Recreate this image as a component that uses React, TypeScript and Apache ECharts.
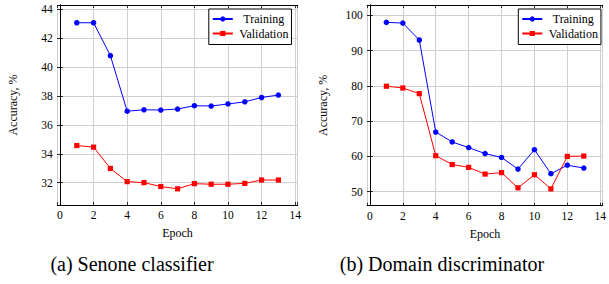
import React, { useEffect, useRef } from "react";
import * as echarts from "echarts";

const epochs = [1, 2, 3, 4, 5, 6, 7, 8, 9, 10, 11, 12, 13];
const senoneTraining = [43.08, 43.08, 40.8, 36.95, 37.05, 37.03, 37.1, 37.33, 37.31, 37.45, 37.6, 37.9, 38.07];
const senoneValidation = [34.57, 34.46, 32.98, 32.07, 32.0, 31.73, 31.57, 31.93, 31.89, 31.89, 31.95, 32.18, 32.18];
const domainTraining = [98.0, 97.8, 93.0, 66.9, 64.1, 62.5, 60.8, 59.7, 56.4, 61.9, 55.1, 57.5, 56.7];
const domainValidation = [79.9, 79.4, 77.8, 60.2, 57.7, 56.9, 55.0, 55.4, 51.1, 54.8, 50.8, 60.0, 60.1];
const seriesNames = ["Training", "Validation"];
const captions = ["(a) Senone classifier", "(b) Domain discriminator"];
const xTitle = "Epoch";
const yTitle = "Accuracy, %";

const FONT = "Liberation Serif";

function pairs(ys: number[]) {
  return epochs.map((e, i) => [e, ys[i]]);
}

function fmt(step: number) {
  return (v: number) => {
    const k = v / step;
    return Math.abs(k - Math.round(k)) < 1e-6 ? String(Math.round(v)) : "";
  };
}

export default function App() {
  const ref = useRef<HTMLDivElement>(null);
  useEffect(() => {
    if (!ref.current) return;
    const chart = echarts.init(ref.current, undefined, { renderer: "svg" });

    const grids = [
      { left: 57.3, top: 5, width: 240.4, height: 200 },
      { left: 367.3, top: 5, width: 240.7, height: 200.7 },
    ];
    const xRange = [-0.16, 14.15];
    const yRanges = [
      { min: 30.45, max: 44.31, step: 2, split: 7 },
      { min: 46.03, max: 102.92, step: 10, split: 6 },
    ];

    const tickStyle = { show: true, inside: true, length: 3, lineStyle: { color: "#000", width: 0.8 } };
    const lineStyle = { show: true, lineStyle: { color: "#000", width: 1 } };
    const labelStyle = { color: "#000", fontFamily: FONT, fontSize: 11.5 };

    const xAxis: any[] = [];
    const yAxis: any[] = [];
    grids.forEach((_, g) => {
      xAxis.push({
        type: "value",
        gridIndex: g,
        position: "bottom",
        min: xRange[0],
        max: xRange[1],
        minInterval: 2,
        maxInterval: 2,
        splitNumber: 7,
        axisLine: lineStyle,
        axisTick: tickStyle,
        axisLabel: { ...labelStyle, margin: 4, formatter: fmt(2), showMinLabel: true, showMaxLabel: true },
        splitLine: { show: true, lineStyle: { color: "#cfcfcf", width: 1 } },
        name: xTitle,
        nameLocation: "middle",
        nameGap: 22,
        nameTextStyle: { color: "#000", fontFamily: FONT, fontSize: 12 },
      });
      xAxis.push({
        type: "value",
        gridIndex: g,
        position: "top",
        min: xRange[0],
        max: xRange[1],
        minInterval: 2,
        maxInterval: 2,
        splitNumber: 7,
        axisLine: lineStyle,
        axisTick: tickStyle,
        axisLabel: { show: false },
        splitLine: { show: false },
      });
      const yr = yRanges[g];
      yAxis.push({
        type: "value",
        gridIndex: g,
        position: "left",
        min: yr.min,
        max: yr.max,
        minInterval: yr.step,
        maxInterval: yr.step,
        splitNumber: yr.split,
        axisLine: lineStyle,
        axisTick: tickStyle,
        axisLabel: { ...labelStyle, margin: 4.5, formatter: fmt(yr.step), showMinLabel: true, showMaxLabel: true },
        splitLine: { show: true, lineStyle: { color: "#cfcfcf", width: 1 } },
        name: yTitle,
        nameLocation: "middle",
        nameGap: 38,
        nameTextStyle: { color: "#000", fontFamily: FONT, fontSize: 12 },
      });
      yAxis.push({
        type: "value",
        gridIndex: g,
        position: "right",
        min: yr.min,
        max: yr.max,
        minInterval: yr.step,
        maxInterval: yr.step,
        splitNumber: yr.split,
        axisLine: lineStyle,
        axisTick: tickStyle,
        axisLabel: { show: false },
        splitLine: { show: false },
      });
    });

    const mk = (name: string, ys: number[], g: number, color: string, symbol: string) => ({
      type: "line",
      name,
      xAxisIndex: g * 2,
      yAxisIndex: g * 2,
      data: pairs(ys),
      symbol,
      symbolSize: symbol === "circle" ? 5.5 : 5.2,
      showSymbol: true,
      lineStyle: { color, width: 1 },
      itemStyle: { color },
      z: 3,
    });

    const legendBase = {
      orient: "vertical",
      top: 9,
      padding: [4, 3, 5, 3],
      borderColor: "#000",
      borderWidth: 1,
      borderRadius: 0,
      backgroundColor: "#fff",
      itemWidth: 20,
      itemHeight: 6.5,
      itemGap: 2.5,
      selectedMode: false,
      data: seriesNames,
      formatter: "{a|{name}}",
      textStyle: {
        color: "#000",
        fontFamily: FONT,
        fontSize: 12,
        rich: { a: { width: 52, align: "center", color: "#000", fontFamily: FONT, fontSize: 12 } },
      },
    };

    chart.setOption({
      animation: false,
      backgroundColor: "#fff",
      grid: grids,
      xAxis,
      yAxis,
      legend: [
        { ...legendBase, left: 208.8 },
        { ...legendBase, left: 518.3 },
      ],
      series: [
        mk(seriesNames[0], senoneTraining, 0, "#0000ff", "circle"),
        mk(seriesNames[1], senoneValidation, 0, "#ff0000", "rect"),
        mk(seriesNames[0], domainTraining, 1, "#0000ff", "circle"),
        mk(seriesNames[1], domainValidation, 1, "#ff0000", "rect"),
      ],
      graphic: [
        {
          type: "text",
          x: 132,
          y: 264,
          style: { text: captions[0], textAlign: "center", textVerticalAlign: "middle", fill: "#000", fontFamily: FONT, fontSize: 20 },
        },
        {
          type: "text",
          x: 442,
          y: 264,
          style: { text: captions[1], textAlign: "center", textVerticalAlign: "middle", fill: "#000", fontFamily: FONT, fontSize: 20 },
        },
      ],
    });
    return () => chart.dispose();
  }, []);

  return (
    <div
      ref={ref}
      style={{ position: "fixed", left: 0, top: 0, width: 609, height: 284, background: "#fff" }}
    />
  );
}
